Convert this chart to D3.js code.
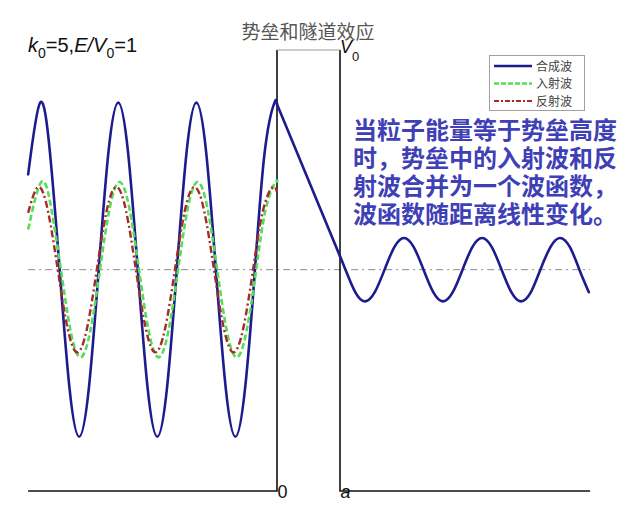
<!DOCTYPE html>
<html>
<head>
<meta charset="utf-8">
<script src="https://cdn.jsdelivr.net/npm/d3@7"></script>
<style>
  html, body { margin: 0; padding: 0; background: #fff; }
  svg { display: block; }
</style>
</head>
<body>
<svg id="chart" width="640" height="514"></svg>
<script>
// ---------------- data ----------------
const chartTitle = "势垒和隧道效应";
const paramLabel = { k: "k", k0: "0", rest1: "=5,", E: "E", slash: "/", V: "V", v0: "0", rest2: "=1" };
const seriesNames = ["合成波", "入射波", "反射波"];
const annotationLines = [
  "当粒子能量等于势垒高度",
  "时，势垒中的入射波和反",
  "射波合并为一个波函数，",
  "波函数随距离线性变化。"
];
const xTickValues = [0, 1];
const xTickLabels = ["0", "a"];

// composite wave, region x < 0
const compositeLeftX = [-3.95, -3.76, -3.605, -3.45, -3.295, -3.14, -2.985, -2.83, -2.675, -2.52, -2.365, -2.21, -2.055, -1.90, -1.745, -1.59, -1.435, -1.28, -1.125, -0.97, -0.815, -0.66, -0.505, -0.35, -0.195, -0.04, 0];
const compositeLeftY = [1.14, 2.0, 1.41, 0, -1.41, -2.0, -1.41, 0, 1.41, 2.0, 1.41, 0, -1.41, -2.0, -1.41, 0, 1.41, 2.0, 1.41, 0, -1.41, -2.0, -1.41, 0, 1.41, 2.0, 1.98];
// composite wave inside the barrier (linear)
const compositeBarrierX = [0, 1];
const compositeBarrierY = [1.98, 0.16];
// composite (transmitted) wave, region x > a
const compositeRightX = [1.0, 1.087, 1.242, 1.397, 1.552, 1.707, 1.862, 2.016, 2.171, 2.326, 2.48, 2.635, 2.79, 2.945, 3.10, 3.255, 3.41, 3.565, 3.72, 3.873, 4.03, 4.18, 4.34, 4.49, 4.65, 4.80, 4.95];
const compositeRightY = [0.16, 0, -0.27, -0.38, -0.27, 0, 0.27, 0.38, 0.27, 0, -0.27, -0.38, -0.27, 0, 0.27, 0.38, 0.27, 0, -0.27, -0.38, -0.27, 0, 0.27, 0.38, 0.27, 0, -0.27];
// incident wave
const incidentX = [-3.95, -3.74, -3.585, -3.43, -3.275, -3.12, -2.965, -2.81, -2.655, -2.50, -2.345, -2.19, -2.035, -1.88, -1.725, -1.57, -1.415, -1.26, -1.105, -0.95, -0.795, -0.64, -0.485, -0.33, -0.175, -0.02, 0];
const incidentY = [0.48, 1.05, 0.74, 0, -0.74, -1.05, -0.74, 0, 0.74, 1.05, 0.74, 0, -0.74, -1.05, -0.74, 0, 0.74, 1.05, 0.74, 0, -0.74, -1.05, -0.74, 0, 0.74, 1.05, 1.04];
// reflected wave
const reflectedX = [-3.95, -3.79, -3.635, -3.48, -3.325, -3.17, -3.015, -2.86, -2.705, -2.55, -2.395, -2.24, -2.085, -1.93, -1.775, -1.62, -1.465, -1.31, -1.155, -1.00, -0.845, -0.69, -0.535, -0.38, -0.225, -0.07, 0];
const reflectedY = [0.68, 0.99, 0.70, 0, -0.70, -0.99, -0.70, 0, 0.70, 0.99, 0.70, 0, -0.70, -0.99, -0.70, 0, 0.70, 0.99, 0.70, 0, -0.70, -0.99, -0.70, 0, 0.70, 0.99, 0.93];
// potential barrier outline
const potentialX = [-3.95, 0, 0, 1, 1, 4.97];
const potentialY = [-2.65, -2.65, 2.63, 2.63, -2.65, -2.65];
// zero reference line
const zeroLineX = [-3.95, 4.97];
const zeroLineY = [0, 0];

// ---------------- drawing ----------------
const svg = d3.select("#chart");
svg.append("rect").attr("width", 640).attr("height", 514).attr("fill", "#fff");

const x = d3.scaleLinear().domain([0, 1]).range([277, 340]);
const y = d3.scaleLinear().domain([-2.65, 2.63]).range([491, 50]);

const smooth = d3.line().x(d => x(d[0])).y(d => y(d[1])).curve(d3.curveNatural);
const straight = d3.line().x(d => x(d[0])).y(d => y(d[1]));

const blue = "#1c1c8e", green = "#55dd55", red = "#a52a2a";

// zero line
svg.append("path").attr("d", straight(d3.zip(zeroLineX, zeroLineY)))
  .attr("fill", "none").attr("stroke", "#8a8a8a").attr("stroke-width", 1)
  .attr("stroke-dasharray", "7,4,2,4");

// potential: black walls + floor, gray top
const pot = d3.zip(potentialX, potentialY);
svg.append("path").attr("d", straight(pot.slice(0, 3)))
  .attr("fill", "none").attr("stroke", "#111").attr("stroke-width", 1.6);
svg.append("path").attr("d", straight(pot.slice(3)))
  .attr("fill", "none").attr("stroke", "#111").attr("stroke-width", 1.6);
svg.append("path").attr("d", straight(pot.slice(2, 4)))
  .attr("fill", "none").attr("stroke", "#9a9a9a").attr("stroke-width", 1.2);

// composite wave
svg.append("path").attr("d", smooth(d3.zip(compositeLeftX, compositeLeftY)))
  .attr("fill", "none").attr("stroke", blue).attr("stroke-width", 2.6).attr("stroke-linecap", "round");
svg.append("path").attr("d", straight(d3.zip(compositeBarrierX, compositeBarrierY)))
  .attr("fill", "none").attr("stroke", blue).attr("stroke-width", 2.6).attr("stroke-linecap", "round");
svg.append("path").attr("d", smooth(d3.zip(compositeRightX, compositeRightY)))
  .attr("fill", "none").attr("stroke", blue).attr("stroke-width", 2.6).attr("stroke-linecap", "round");

// incident wave
svg.append("path").attr("d", smooth(d3.zip(incidentX, incidentY)))
  .attr("fill", "none").attr("stroke", green).attr("stroke-width", 2.6)
  .attr("stroke-dasharray", "6,3");
// reflected wave
svg.append("path").attr("d", smooth(d3.zip(reflectedX, reflectedY)))
  .attr("fill", "none").attr("stroke", red).attr("stroke-width", 2.4)
  .attr("stroke-dasharray", "7,3,2,3");

// x tick labels via axis
const axis = d3.axisBottom(x).tickValues(xTickValues)
  .tickFormat((d, i) => xTickLabels[i]).tickSize(0).tickPadding(-6);
const gAxis = svg.append("g").attr("transform", `translate(0,${y(-2.65)})`).call(axis);
gAxis.select(".domain").remove();
gAxis.selectAll("text")
  .attr("text-anchor", "start")
  .attr("font-family", "Liberation Sans, Arial, sans-serif")
  .attr("font-size", 18)
  .attr("fill", "#111")
  .attr("font-style", (d, i) => i === 1 ? "italic" : "normal");

// title
svg.append("text").attr("x", 308).attr("y", 39).attr("text-anchor", "middle")
  .attr("font-family", "Noto Sans CJK SC").attr("font-size", 19).attr("fill", "#555")
  .text(chartTitle);

// V0 label
const v0 = svg.append("text").attr("x", 340).attr("y", 53)
  .attr("font-family", "Liberation Sans, Arial, sans-serif").attr("font-size", 18).attr("fill", "#111");
v0.append("tspan").attr("font-style", "italic").text(paramLabel.V);
v0.append("tspan").attr("font-size", 13).attr("dy", 8).attr("dx", 0).text(paramLabel.v0);

// parameter label
const pl = svg.append("text").attr("x", 28).attr("y", 52)
  .attr("font-family", "Liberation Sans, Arial, sans-serif").attr("font-size", 20).attr("fill", "#111");
pl.append("tspan").attr("font-style", "italic").text(paramLabel.k);
pl.append("tspan").attr("font-size", 14).attr("dy", 6).text(paramLabel.k0);
pl.append("tspan").attr("dy", -6).text(paramLabel.rest1);
pl.append("tspan").attr("font-style", "italic").text(paramLabel.E + paramLabel.slash + paramLabel.V);
pl.append("tspan").attr("font-size", 14).attr("dy", 6).text(paramLabel.v0);
pl.append("tspan").attr("dy", -6).text(paramLabel.rest2);

// legend
const lg = svg.append("g");
lg.append("rect").attr("x", 489.5).attr("y", 55.5).attr("width", 95).attr("height", 55)
  .attr("fill", "#fff").attr("stroke", "#a0a0a0").attr("stroke-width", 1);
const legendStyles = [
  { color: blue, dash: null, w: 2.6 },
  { color: green, dash: "5,2", w: 2.6 },
  { color: red, dash: "5,2,2,2", w: 2.2 }
];
seriesNames.forEach((name, i) => {
  const yy = 66 + i * 17.5;
  const ln = lg.append("line").attr("x1", 494).attr("x2", 532).attr("y1", yy).attr("y2", yy)
    .attr("stroke", legendStyles[i].color).attr("stroke-width", legendStyles[i].w);
  if (legendStyles[i].dash) ln.attr("stroke-dasharray", legendStyles[i].dash);
  lg.append("text").attr("x", 536).attr("y", yy + 4.5)
    .attr("font-family", "Noto Sans CJK SC").attr("font-size", 12).attr("fill", "#444")
    .text(name);
});

// annotation text
annotationLines.forEach((line, i) => {
  svg.append("text").attr("x", 353).attr("y", 139 + i * 28)
    .attr("font-family", "Noto Sans CJK SC").attr("font-weight", "bold")
    .attr("font-size", 24).attr("fill", "#4040b6")
    .text(line);
});
</script>
</body>
</html>
